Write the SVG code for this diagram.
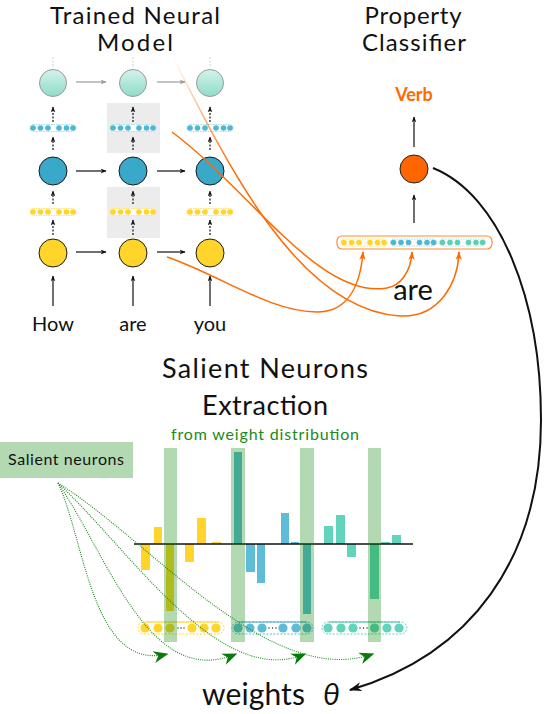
<svg xmlns="http://www.w3.org/2000/svg" xmlns:xlink="http://www.w3.org/1999/xlink" width="544" height="714" viewBox="0 0 544 714">
<style>
  .t { font-family: Lato, "Open Sans", "DejaVu Sans", sans-serif; fill: #111; font-weight: 400; }
  .title { font-size: 24px; text-anchor: middle; }
  .word { font-size: 20px; text-anchor: middle; }
  .ka { stroke: #111; stroke-width: 1.2; fill: none; }
  .kd { stroke: #111; stroke-width: 1.2; fill: none; stroke-dasharray: 2 1.5; }
  .ga { stroke: #9a9a9a; stroke-width: 1.2; fill: none; }
  .oc { stroke: #ff6a00; stroke-width: 1.5; fill: none; }
  .gd { stroke: #1a8a1a; stroke-width: 1.1; fill: none; stroke-dasharray: 1 1.2; }
  .hl { fill: #008000; opacity: 0.3; }
  .by { fill: #ffd52b; }
  .bb { fill: #5fbcd6; }
  .bt { fill: #62d4bc; }
</style>
<defs>
  <linearGradient id="tealG" x1="0" y1="0" x2="0" y2="1">
    <stop offset="0" stop-color="#d4f3ec"/>
    <stop offset="1" stop-color="#8edcc7"/>
  </linearGradient>
  <linearGradient id="fadeO" gradientUnits="userSpaceOnUse" x1="173" y1="57" x2="235" y2="170">
    <stop offset="0" stop-color="#ff6a00" stop-opacity="0"/>
    <stop offset="1" stop-color="#ff6a00" stop-opacity="1"/>
  </linearGradient>
  <marker id="arrK" viewBox="0 0 10 10" refX="9" refY="5" markerWidth="6" markerHeight="6" markerUnits="userSpaceOnUse" orient="auto">
    <path d="M0,1 L10,5 L0,9 L3,5 Z" fill="#111"/>
  </marker>
  <marker id="arrG" viewBox="0 0 10 10" refX="9" refY="5" markerWidth="6" markerHeight="6" markerUnits="userSpaceOnUse" orient="auto">
    <path d="M0,1 L10,5 L0,9 L3,5 Z" fill="#9a9a9a"/>
  </marker>
  <marker id="arrO" viewBox="0 0 10 10" refX="9" refY="5" markerWidth="9" markerHeight="9" markerUnits="userSpaceOnUse" orient="auto">
    <path d="M0,1.5 L10,5 L0,8.5 L3,5 Z" fill="#ff6a00"/>
  </marker>
  <marker id="arrB" viewBox="0 0 10 10" refX="9" refY="5" markerWidth="13" markerHeight="13" markerUnits="userSpaceOnUse" orient="auto">
    <path d="M0,1.5 L10,5 L0,8.5 L3,5 Z" fill="#111"/>
  </marker>
  <marker id="arrGr" viewBox="0 0 10 10" refX="9" refY="5" markerWidth="15" markerHeight="15" markerUnits="userSpaceOnUse" orient="auto">
    <path d="M0,1 L10,5 L0,9 L3,5 Z" fill="#0a7a0a"/>
  </marker>
  <g id="vecB">
    <rect x="-23" y="-3.5" width="46" height="7" rx="3.5" fill="#fff" stroke="#9fdfe8" stroke-width="1" stroke-dasharray="1.5 1"/>
    <g fill="#4fb6d3"><circle cx="-20" cy="0" r="2.8"/><circle cx="-12.5" cy="0" r="2.8"/><circle cx="-5" cy="0" r="2.8"/><circle cx="6" cy="0" r="2.8"/><circle cx="13.5" cy="0" r="2.8"/><circle cx="20" cy="0" r="2.8"/></g>
  </g>
  <g id="vecY">
    <rect x="-23" y="-3.5" width="46" height="7" rx="3.5" fill="#fff" stroke="#ffe070" stroke-width="1" stroke-dasharray="1.5 1"/>
    <g fill="#ffd52b"><circle cx="-20" cy="0" r="2.8"/><circle cx="-12.5" cy="0" r="2.8"/><circle cx="-5" cy="0" r="2.8"/><circle cx="6" cy="0" r="2.8"/><circle cx="13.5" cy="0" r="2.8"/><circle cx="20" cy="0" r="2.8"/></g>
  </g>
  <g id="vecT">
    <rect x="-23" y="-3.5" width="46" height="7" rx="3.5" fill="#fff" stroke="#a6e8d8" stroke-width="1" stroke-dasharray="1.5 1"/>
    <g fill="#5ccfb6"><circle cx="-20" cy="0" r="2.8"/><circle cx="-12.5" cy="0" r="2.8"/><circle cx="-5" cy="0" r="2.8"/><circle cx="6" cy="0" r="2.8"/><circle cx="13.5" cy="0" r="2.8"/><circle cx="20" cy="0" r="2.8"/></g>
  </g>
</defs>
<rect width="544" height="714" fill="#fff"/>

<!-- titles -->
<g id="title-model">
  <text class="t title" x="135" y="24" textLength="170" lengthAdjust="spacing">Trained Neural</text>
  <text class="t title" x="135" y="51" textLength="76" lengthAdjust="spacing">Model</text>
</g>
<g id="title-classifier">
  <text class="t title" x="413" y="24" textLength="97" lengthAdjust="spacing">Property</text>
  <text class="t title" x="414" y="51" textLength="104" lengthAdjust="spacing">Classifier</text>
</g>

<!-- highlight boxes -->
<g id="highlight-boxes" fill="#ececec">
  <rect x="107" y="103" width="53" height="50"/>
  <rect x="107" y="187" width="53" height="51"/>
</g>

<!-- network connectors -->
<g id="network-connectors">
  <g stroke="#d0d0d0" stroke-width="1" stroke-dasharray="2 1.5">
    <line x1="53" y1="57" x2="53" y2="68"/><line x1="133" y1="57" x2="133" y2="68"/><line x1="210" y1="57" x2="210" y2="68"/>
  </g>
  <line class="ga" x1="76" y1="82" x2="106" y2="82" marker-end="url(#arrG)"/>
  <line class="ga" x1="157" y1="82" x2="185" y2="82" marker-end="url(#arrG)"/>
  <line class="ka" x1="76" y1="171" x2="106" y2="171" marker-end="url(#arrK)"/>
  <line class="ka" x1="157" y1="171" x2="185" y2="171" marker-end="url(#arrK)"/>
  <line class="ka" x1="76" y1="252" x2="106" y2="252" marker-end="url(#arrK)"/>
  <line class="ka" x1="157" y1="252" x2="185" y2="252" marker-end="url(#arrK)"/>
  <g>
    <line class="kd" x1="53" y1="122" x2="53" y2="107" marker-end="url(#arrK)"/>
    <line class="kd" x1="133" y1="122" x2="133" y2="107" marker-end="url(#arrK)"/>
    <line class="kd" x1="210" y1="122" x2="210" y2="107" marker-end="url(#arrK)"/>
    <line class="kd" x1="53" y1="150" x2="53" y2="137" marker-end="url(#arrK)"/>
    <line class="kd" x1="133" y1="150" x2="133" y2="137" marker-end="url(#arrK)"/>
    <line class="kd" x1="210" y1="150" x2="210" y2="137" marker-end="url(#arrK)"/>
    <line class="kd" x1="53" y1="204" x2="53" y2="191" marker-end="url(#arrK)"/>
    <line class="kd" x1="133" y1="204" x2="133" y2="191" marker-end="url(#arrK)"/>
    <line class="kd" x1="210" y1="204" x2="210" y2="191" marker-end="url(#arrK)"/>
    <line class="kd" x1="53" y1="235" x2="53" y2="220" marker-end="url(#arrK)"/>
    <line class="kd" x1="133" y1="235" x2="133" y2="220" marker-end="url(#arrK)"/>
    <line class="kd" x1="210" y1="235" x2="210" y2="220" marker-end="url(#arrK)"/>
  </g>
  <line class="ka" x1="53" y1="306" x2="53" y2="276" marker-end="url(#arrK)"/>
  <line class="ka" x1="133" y1="306" x2="133" y2="276" marker-end="url(#arrK)"/>
  <line class="ka" x1="210" y1="306" x2="210" y2="276" stroke="#555" marker-end="url(#arrK)"/>
</g>

<!-- network nodes -->
<g id="node-top-how"><circle cx="53" cy="83" r="13.5" fill="url(#tealG)" stroke="#9a9a9a" stroke-width="1"/></g>
<g id="node-top-are"><circle cx="133" cy="83" r="13.5" fill="url(#tealG)" stroke="#9a9a9a" stroke-width="1"/></g>
<g id="node-top-you"><circle cx="210" cy="83" r="13.5" fill="url(#tealG)" stroke="#9a9a9a" stroke-width="1"/></g>
<g id="vec-top-how"><use xlink:href="#vecB" x="53" y="128"/></g>
<g id="vec-top-are"><use xlink:href="#vecB" x="133" y="128"/></g>
<g id="vec-top-you"><use xlink:href="#vecB" x="210" y="128"/></g>
<g id="node-mid-how"><circle cx="53" cy="171" r="14" fill="#3aa9c9" stroke="#1a1a1a" stroke-width="1"/></g>
<g id="node-mid-are"><circle cx="133" cy="171" r="14" fill="#3aa9c9" stroke="#1a1a1a" stroke-width="1"/></g>
<g id="node-mid-you"><circle cx="210" cy="171" r="14" fill="#3aa9c9" stroke="#1a1a1a" stroke-width="1"/></g>
<g id="vec-low-how"><use xlink:href="#vecY" x="53" y="212"/></g>
<g id="vec-low-are"><use xlink:href="#vecY" x="133" y="212"/></g>
<g id="vec-low-you"><use xlink:href="#vecY" x="210" y="212"/></g>
<g id="node-low-how"><circle cx="53" cy="253" r="14" fill="#ffd52b" stroke="#1a1a1a" stroke-width="1"/></g>
<g id="node-low-are"><circle cx="133" cy="253" r="14" fill="#ffd52b" stroke="#1a1a1a" stroke-width="1"/></g>
<g id="node-low-you"><circle cx="210" cy="253" r="14" fill="#ffd52b" stroke="#1a1a1a" stroke-width="1"/></g>
<g id="words">
  <text class="t word" x="53" y="331">How</text>
  <text class="t word" x="133" y="331">are</text>
  <text class="t word" x="210" y="331">you</text>
</g>

<!-- classifier -->
<g id="node-verb"><text x="414" y="101" font-family="Lato, 'Open Sans', sans-serif" font-size="18" font-weight="bold" text-anchor="middle" fill="#ff6a00">Verb</text></g>
<g id="node-classifier"><circle cx="414" cy="169" r="14" fill="#ff6600" stroke="#222" stroke-width="1"/></g>
<g id="node-concat">
  <rect x="337" y="236" width="155" height="13" rx="5" fill="#fff" stroke="#ff8a3a" stroke-width="1.2"/>
  <use xlink:href="#vecY" x="364" y="242.5"/>
  <use xlink:href="#vecB" x="413.5" y="242.5"/>
  <use xlink:href="#vecT" x="462.5" y="242.5"/>
</g>
<g id="label-are"><text class="t" x="413" y="300" font-size="29" text-anchor="middle">are</text></g>

<!-- connectors -->
<g id="connectors">
  <line class="ka" x1="414" y1="223" x2="414" y2="195" marker-end="url(#arrK)"/>
  <line class="ka" x1="414" y1="147" x2="414" y2="117" marker-end="url(#arrK)"/>
  <path d="M173,57 C230,170 300,310 400,316 C440,318 458,282 459,252" fill="none" stroke="url(#fadeO)" stroke-width="1.5" marker-end="url(#arrO)"/>
  <path class="oc" d="M172,132 C250,190 320,300 387,288 C400,286 411,272 412,252" marker-end="url(#arrO)"/>
  <path class="oc" d="M167,257 C220,275 270,312 317,312 C345,312 360,290 363,252" marker-end="url(#arrO)"/>
  <path d="M433,168 C500,195 541,300 541,420 C541,560 470,655 350,690" fill="none" stroke="#111" stroke-width="2" marker-end="url(#arrB)"/>
</g>

<!-- salient neurons extraction -->
<g id="title-extraction">
  <text class="t" x="265" y="378" font-size="27" text-anchor="middle" textLength="206" lengthAdjust="spacing">Salient Neurons</text>
  <text class="t" x="265" y="415" font-size="27" text-anchor="middle" textLength="126" lengthAdjust="spacing">Extraction</text>
  <text x="265" y="440" font-family="Lato, 'Open Sans', sans-serif" font-weight="400" font-size="16" text-anchor="middle" fill="#1a8a1a" textLength="188" lengthAdjust="spacing">from weight distribution</text>
</g>
<g id="node-salient">
  <rect x="0" y="442" width="133" height="36" fill="#b3d9b3"/>
  <text class="t" x="66" y="465" font-size="16" text-anchor="middle" textLength="116" lengthAdjust="spacing">Salient neurons</text>
</g>

<g id="bar-chart">
  <rect class="by" x="141" y="544" width="9" height="26"/>
  <rect class="by" x="154" y="527" width="8" height="17"/>
  <rect class="by" x="166" y="544" width="8" height="67"/>
  <rect class="by" x="185" y="544" width="9" height="18"/>
  <rect class="by" x="197" y="518" width="9" height="26"/>
  <rect class="by" x="212" y="542" width="9" height="2"/>
  <rect class="bb" x="234" y="452" width="8" height="92"/>
  <rect class="bb" x="246" y="544" width="9" height="28"/>
  <rect class="bb" x="257" y="544" width="8" height="39"/>
  <rect class="bb" x="281" y="513" width="8" height="31"/>
  <rect class="bb" x="291" y="542" width="8" height="2"/>
  <rect class="bb" x="303" y="544" width="8" height="70"/>
  <rect class="bt" x="324" y="526" width="9" height="18"/>
  <rect class="bt" x="336" y="515" width="9" height="29"/>
  <rect class="bt" x="347" y="544" width="9" height="13"/>
  <rect class="bt" x="370" y="544" width="9" height="55"/>
  <rect class="bt" x="381" y="542" width="9" height="2"/>
  <rect class="bt" x="392" y="535" width="9" height="9"/>
  <line x1="134" y1="544" x2="413" y2="544" stroke="#111" stroke-width="1.3"/>
</g>

<g id="weights-vector">
  <g id="wv-yellow">
    <rect x="138" y="622" width="86" height="12" rx="6" fill="none" stroke="#ffd52b" stroke-width="1" stroke-dasharray="2 1.5"/>
    <line x1="145" y1="622" x2="219" y2="622" stroke="#ffd52b" stroke-width="1.2"/>
    <g class="by"><circle cx="145" cy="628" r="4.6"/><circle cx="158" cy="628" r="4.6"/><circle cx="170" cy="628" r="4.6"/><circle cx="192" cy="628" r="4.6"/><circle cx="204" cy="628" r="4.6"/><circle cx="216" cy="628" r="4.6"/></g>
    <g fill="#222"><circle cx="178" cy="628" r="0.7"/><circle cx="181" cy="628" r="0.7"/><circle cx="184" cy="628" r="0.7"/></g>
  </g>
  <g id="wv-blue">
    <rect x="232" y="622" width="81" height="12" rx="6" fill="none" stroke="#5fbcd6" stroke-width="1" stroke-dasharray="2 1.5"/>
    <line x1="239" y1="622" x2="307" y2="622" stroke="#4aa6c0" stroke-width="1.2"/>
    <g class="bb"><circle cx="238" cy="628" r="4.6"/><circle cx="250" cy="628" r="4.6"/><circle cx="262" cy="628" r="4.6"/><circle cx="283" cy="628" r="4.6"/><circle cx="296" cy="628" r="4.6"/><circle cx="307" cy="628" r="4.6"/></g>
    <g fill="#222"><circle cx="269" cy="628" r="0.7"/><circle cx="272.5" cy="628" r="0.7"/><circle cx="276" cy="628" r="0.7"/></g>
  </g>
  <g id="wv-teal">
    <rect x="322" y="622" width="85" height="12" rx="6" fill="none" stroke="#62d4bc" stroke-width="1" stroke-dasharray="2 1.5"/>
    <line x1="329" y1="622" x2="400" y2="622" stroke="#4cb8a0" stroke-width="1.2"/>
    <g class="bt"><circle cx="328" cy="628" r="4.6"/><circle cx="341" cy="628" r="4.6"/><circle cx="353" cy="628" r="4.6"/><circle cx="374.5" cy="628" r="4.6"/><circle cx="387" cy="628" r="4.6"/><circle cx="399" cy="628" r="4.6"/></g>
    <g fill="#222"><circle cx="360" cy="628" r="0.7"/><circle cx="363.5" cy="628" r="0.7"/><circle cx="367" cy="628" r="0.7"/></g>
  </g>
</g>

<g id="salient-columns">
  <rect class="hl" x="164" y="448" width="13" height="194"/>
  <rect class="hl" x="231" y="448" width="14" height="194"/>
  <rect class="hl" x="300" y="448" width="14" height="194"/>
  <rect class="hl" x="368" y="448" width="13" height="194"/>
</g>

<g id="salient-connectors">
  <path class="gd" d="M58,483 C85,540 92,672 167,654" marker-end="url(#arrGr)"/>
  <path class="gd" d="M58,483 C110,560 150,690 236,654" marker-end="url(#arrGr)"/>
  <path class="gd" d="M58,483 C130,550 220,690 305,654" marker-end="url(#arrGr)"/>
  <path class="gd" d="M58,483 C150,540 270,690 373,654" marker-end="url(#arrGr)"/>
</g>

<g id="node-weights">
  <text class="t" x="202" y="705" font-size="30" textLength="103" lengthAdjust="spacing">weights</text>
  <text class="t" x="323" y="705" font-size="30" font-style="italic">θ</text>
</g>
</svg>
